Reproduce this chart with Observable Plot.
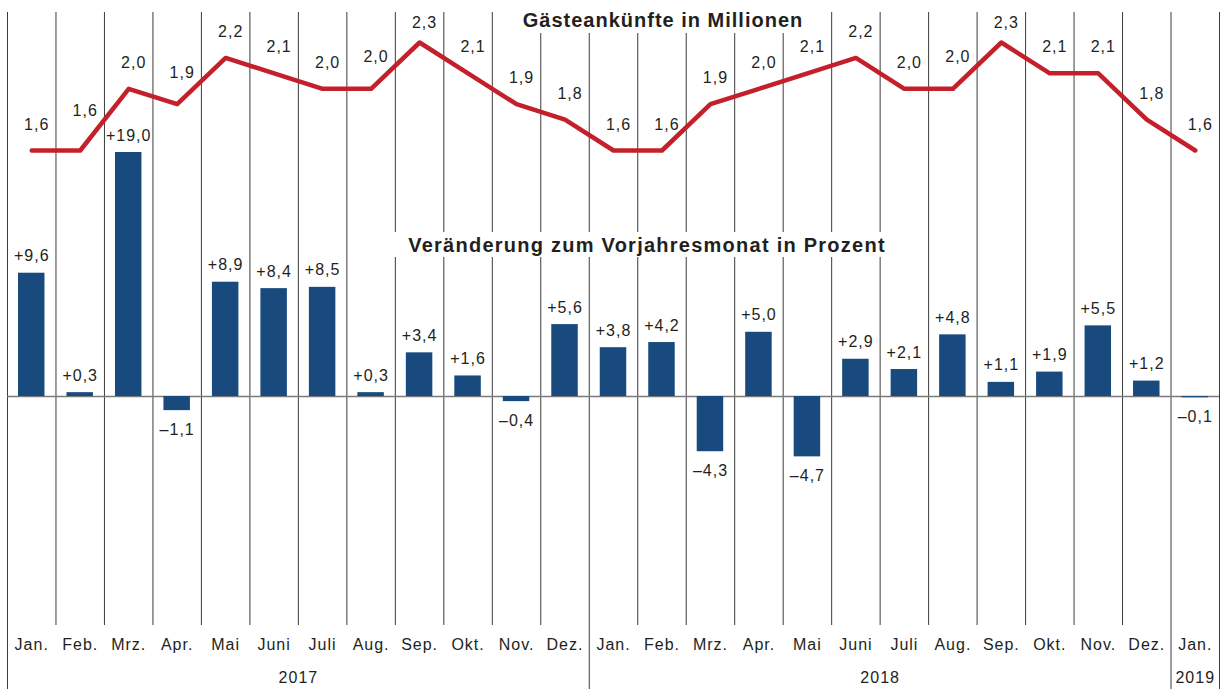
<!DOCTYPE html>
<html><head><meta charset="utf-8">
<script src="https://cdn.jsdelivr.net/npm/d3@7"></script>
<script src="https://cdn.jsdelivr.net/npm/@observablehq/plot@0.6"></script>
<style>
body{margin:0;background:#fff;}
#wrap{position:relative;width:1223px;height:689px;overflow:hidden;}
#wrap svg{position:absolute;left:0;top:0;}
.ttl{position:absolute;background:#fff;font-family:"Liberation Sans",Arial,Helvetica,sans-serif;font-weight:bold;font-size:20px;line-height:20px;letter-spacing:1px;color:#231f20;white-space:nowrap;transform:translateX(-50%);padding-left:18px;padding-right:18px;}
</style></head><body>
<div id="wrap"></div>
<script>
// Data
const months = ["Jan.","Feb.","Mrz.","Apr.","Mai","Juni","Juli","Aug.","Sep.","Okt.","Nov.","Dez.",
                "Jan.","Feb.","Mrz.","Apr.","Mai","Juni","Juli","Aug.","Sep.","Okt.","Nov.","Dez.",
                "Jan."];
const years = ["2017","2018","2019"];
const yearFirstMonth = [0, 12, 24];
const arrivals = [1.6,1.6,2.0,1.9,2.2,2.1,2.0,2.0,2.3,2.1,1.9,1.8,
                  1.6,1.6,1.9,2.0,2.1,2.2,2.0,2.0,2.3,2.1,2.1,1.8,
                  1.6];
const change = [9.6,0.3,19.0,-1.1,8.9,8.4,8.5,0.3,3.4,1.6,-0.4,5.6,
                3.8,4.2,-4.3,5.0,-4.7,2.9,2.1,4.8,1.1,1.9,5.5,1.2,
                -0.1];
const titleTop = "Gästeankünfte in Millionen";
const titleBottom = "Veränderung zum Vorjahresmonat in Prozent";

// Derived
const n = months.length;
const idx = d3.range(n);
const yearBounds = [...yearFirstMonth, n];
const yearMid = years.map((y, j) => (yearBounds[j] + yearBounds[j + 1]) / 2);
const fmtPct = v => (v < 0 ? "\u2013" : "+") + Math.abs(v).toFixed(1).replace(".", ",");
const fmtNum = v => v.toFixed(1).replace(".", ",");
const font = "'Liberation Sans', Arial, Helvetica, sans-serif";
const ink = "#231f20";
const common = {
  width: 1223, height: 689,
  marginLeft: 7, marginRight: 4, marginTop: 12, marginBottom: 64,
  x: {domain: [0, n], axis: null}
};

const bars = Plot.plot({
  ...common,
  style: {fontFamily: font, letterSpacing: "1px", color: ink, background: "transparent"},
  y: {domain: [0, 19], range: [396, 152], axis: null},
  marks: [
    Plot.ruleX(d3.range(n + 1), {stroke: "#3c3c3c", strokeWidth: 1}),
    Plot.axisX({ticks: yearBounds, tickSize: 64, tickFormat: () => "", stroke: "#3c3c3c", label: null}),
    Plot.ruleY([0], {stroke: "#7a7a7a", strokeWidth: 1.5}),
    Plot.rectY(idx, {x1: i => i, x2: i => i + 1, y1: 0, y2: i => change[i], insetLeft: 11, insetRight: 11, fill: "#184a7d"}),
    Plot.text(idx.filter(i => change[i] >= 0), {x: i => i + 0.5, y: i => change[i], text: i => fmtPct(change[i]), dy: -17, fontSize: 16, fill: ink}),
    Plot.text(idx.filter(i => change[i] < 0), {x: i => i + 0.5, y: i => Math.min(0, change[i]), text: i => fmtPct(change[i]), dy: 19, fontSize: 16, fill: ink}),
    Plot.text(idx, {x: i => i + 0.5, frameAnchor: "bottom", text: i => months[i], dy: 24, fontSize: 16, fill: ink}),
    Plot.text(years, {x: (d, j) => yearMid[j], frameAnchor: "bottom", text: d => d, dy: 57, fontSize: 16, fill: ink})
  ]
});

// label lifts (px above point) for the line labels
const defaultLift = 26;
const liftOverrides = {1: 40, 3: 31, 7: 32, 8: 20, 19: 32, 20: 20};
const liftOf = i => liftOverrides[i] ?? defaultLift;
const lifts = [...new Set(idx.map(liftOf))];

const line = Plot.plot({
  ...common,
  style: {fontFamily: font, letterSpacing: "1px", color: ink, background: "transparent"},
  y: {domain: [1.6, 2.3], range: [150, 42], axis: null},
  marks: [
    Plot.line(idx, {x: i => i + 0.5, y: i => arrivals[i], stroke: "#c4202b", strokeWidth: 4.5, strokeLinecap: "round", strokeLinejoin: "round"}),
    ...lifts.map(l => Plot.text(idx.filter(i => liftOf(i) === l), {x: i => i + 0.5, y: i => arrivals[i], text: i => fmtNum(arrivals[i]), dx: 5, dy: -l, fontSize: 16, fill: ink}))
  ]
});

const wrap = document.getElementById("wrap");
wrap.appendChild(bars);
wrap.appendChild(line);

const t1 = document.createElement("div");
t1.className = "ttl";
t1.textContent = titleTop;
Object.assign(t1.style, {left: "663px", top: "0px", paddingTop: "10px", paddingBottom: "3px"});
wrap.appendChild(t1);

const t2 = document.createElement("div");
t2.className = "ttl";
t2.textContent = titleBottom;
Object.assign(t2.style, {left: "647px", top: "232px", paddingTop: "3px", paddingBottom: "2px", letterSpacing: "1.25px"});
wrap.appendChild(t2);
</script>
</body></html>
